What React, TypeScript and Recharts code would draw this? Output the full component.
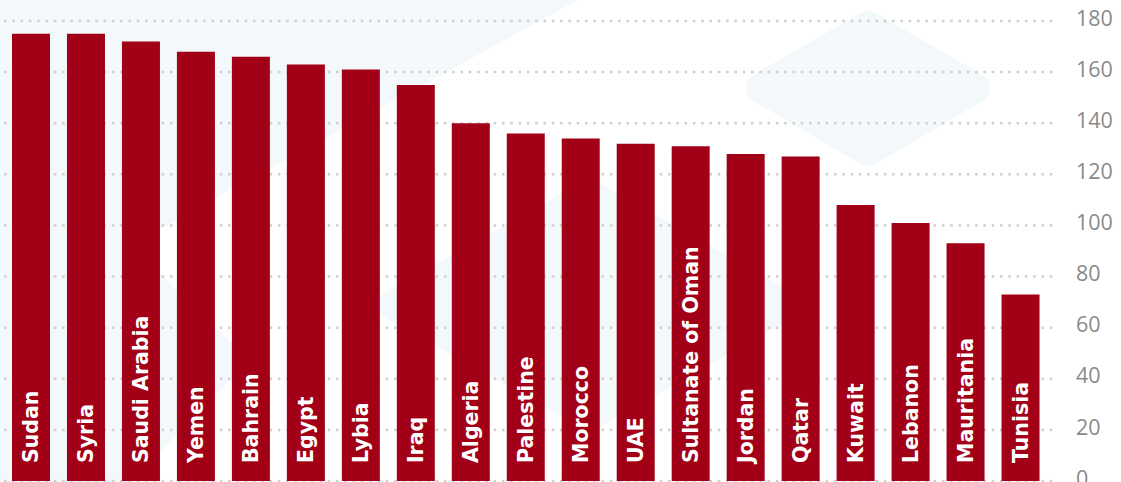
import { BarChart, Bar, XAxis, YAxis, CartesianGrid, LabelList } from "recharts";

const countries = [
  "Sudan",
  "Syria",
  "Saudi Arabia",
  "Yemen",
  "Bahrain",
  "Egypt",
  "Lybia",
  "Iraq",
  "Algeria",
  "Palestine",
  "Morocco",
  "UAE",
  "Sultanate of Oman",
  "Jordan",
  "Qatar",
  "Kuwait",
  "Lebanon",
  "Mauritania",
  "Tunisia",
];

const scores = [175, 175, 172, 168, 166, 163, 161, 155, 140, 136, 134, 132, 131, 128, 127, 108, 101, 93, 73];

const yTicks = [0, 20, 40, 60, 80, 100, 120, 140, 160, 180];

const data = countries.map((name, i) => ({ name, value: scores[i] }));

const BAR_COLOR = "#a20016";
const SHAPE_COLOR = "#f3f8fb";

function BarName(props: any) {
  const { x, y, width, height, value } = props;
  const cx = x + width / 2;
  const by = y + height - 18;
  return (
    <text
      x={cx}
      y={by}
      transform={`rotate(-90 ${cx} ${by})`}
      textAnchor="start"
      dominantBaseline="central"
      fill="#ffffff"
      fontFamily="'DejaVu Sans', sans-serif"
      fontWeight={700}
      fontSize={20.5}
    >
      {value}
    </text>
  );
}

// faint decorative shapes behind the plot
function Backdrop() {
  return (
    <svg width={1121} height={482} style={{ position: "absolute", left: 0, top: 0 }}>
      <polygon
        points="0,0 578,0 130,245 250,360 130,482 0,482"
        fill={SHAPE_COLOR}
      />
      <polygon
        points="761,88 868,26 975,88 868,151"
        fill={SHAPE_COLOR}
        stroke={SHAPE_COLOR}
        strokeWidth={30}
        strokeLinejoin="round"
      />
      <polygon
        points="393,305 590,195 785,305 590,415"
        fill={SHAPE_COLOR}
        stroke={SHAPE_COLOR}
        strokeWidth={30}
        strokeLinejoin="round"
      />
    </svg>
  );
}

export default function App() {
  return (
    <div style={{ position: "absolute", left: 0, top: 0, width: 1121, height: 482, background: "#fff" }}>
      <Backdrop />
      <div style={{ position: "absolute", left: 0, top: 0 }}>
        <BarChart width={1121} height={482} data={data} margin={{ top: 21, right: 0, bottom: 1, left: 4 }}>
          <CartesianGrid
            vertical={false}
            stroke="#cfcfcf"
            strokeWidth={2.5}
            strokeDasharray="2.5 5.8"
          />
          <XAxis dataKey="name" hide padding={{ left: 0, right: 9.5 }} />
          <YAxis
            orientation="right"
            width={63}
            domain={[0, 180]}
            ticks={yTicks}
            interval={0}
            axisLine={false}
            tickLine={false}
            tickMargin={12}
            tick={{ fill: "#8a8a8a", fontSize: 21.5, fontFamily: "'Open Sans', sans-serif", dy: -3 }}
          />
          <Bar dataKey="value" fill={BAR_COLOR} barSize={38} isAnimationActive={false}>
            <LabelList dataKey="name" content={<BarName />} />
          </Bar>
        </BarChart>
      </div>
    </div>
  );
}
